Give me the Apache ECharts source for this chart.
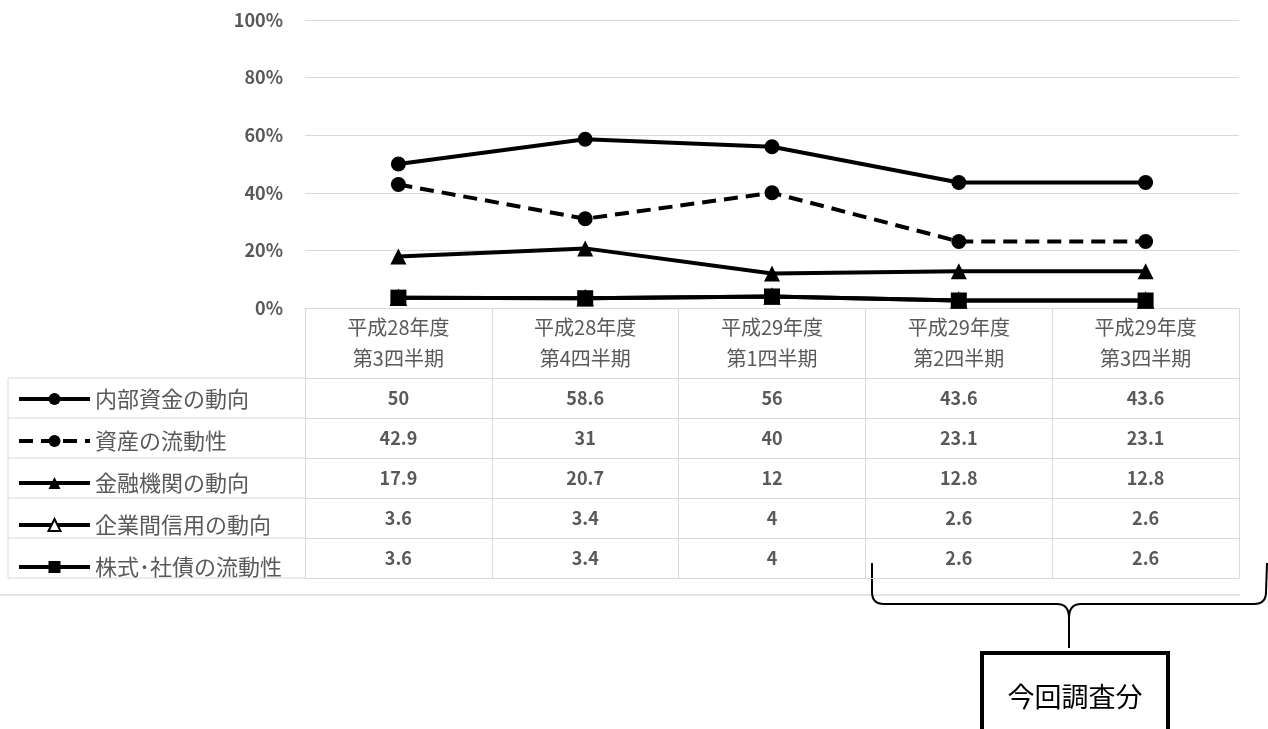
<!DOCTYPE html>
<html lang="ja">
<head>
<meta charset="utf-8">
<title>資金繰りの要因</title>
<script src="https://cdn.jsdelivr.net/npm/echarts@6/dist/echarts.min.js"></script>
<style>
  html, body { margin: 0; padding: 0; background: #ffffff; }
  #chart { width: 1268px; height: 729px; }
</style>
</head>
<body>
<div id="chart"></div>
<script>
// Survey periods (column headers of the data table)
const categories = [
  '平成28年度\n第3四半期',
  '平成28年度\n第4四半期',
  '平成29年度\n第1四半期',
  '平成29年度\n第2四半期',
  '平成29年度\n第3四半期'
];

// Share of responses (%) per factor
const seriesNames = ['内部資金の動向', '資産の流動性', '金融機関の動向', '企業間信用の動向', '株式･社債の流動性'];
const internalFunds = [50, 58.6, 56, 43.6, 43.6];
const assetLiquidity = [42.9, 31, 40, 23.1, 23.1];
const financialInstitutions = [17.9, 20.7, 12, 12.8, 12.8];
const tradeCredit = [3.6, 3.4, 4, 2.6, 2.6];
const securitiesLiquidity = [3.6, 3.4, 4, 2.6, 2.6];

const yTicks = [0, 20, 40, 60, 80, 100];

const rows = [internalFunds, assetLiquidity, financialInstitutions, tradeCredit, securitiesLiquidity];

// Layout of the chart and the data table beneath it
const GRID = { left: 305, right: 29, top: 20, bottom: 421 };
const HEADER_H = 70;
const ROW_H = 40;
const TABLE_LEFT = 8;
const GRID_LINE = '#d9d9d9';
const TEXT_GREY = '#595959';
const FONT = '"Noto Sans CJK JP", "Noto Sans", sans-serif';

const chart = echarts.init(document.getElementById('chart'), null, { renderer: 'canvas' });

// Header axis: period names, with long ticks forming the table's column rules
const xAxes = [{
  type: 'category',
  data: categories,
  position: 'bottom',
  boundaryGap: true,
  axisLine: { show: true, lineStyle: { color: GRID_LINE, width: 1 } },
  axisTick: { show: true, length: HEADER_H + ROW_H * rows.length, lineStyle: { color: GRID_LINE, width: 1 } },
  axisLabel: {
    interval: 0, margin: 4, fontSize: 20, lineHeight: 31,
    color: TEXT_GREY, fontFamily: FONT
  },
  splitLine: { show: false }
}];

// One extra axis per table row, its line being the row's top rule
rows.forEach((row, r) => {
  xAxes.push({
    type: 'category',
    data: categories,
    position: 'bottom',
    offset: HEADER_H + ROW_H * r,
    boundaryGap: true,
    axisLine: { show: true, lineStyle: { color: GRID_LINE, width: 1 } },
    axisTick: { show: false },
    axisLabel: {
      interval: 0, margin: 10, fontSize: 18, lineHeight: 20, fontWeight: 'bold',
      color: TEXT_GREY, fontFamily: FONT,
      formatter: (value, index) => String(row[index])
    },
    splitLine: { show: false }
  });
});
// Closing rule under the last row
xAxes.push({
  type: 'category',
  data: categories,
  position: 'bottom',
  offset: HEADER_H + ROW_H * rows.length,
  boundaryGap: true,
  axisLine: { show: true, lineStyle: { color: GRID_LINE, width: 1 } },
  axisTick: { show: false },
  axisLabel: { show: false },
  splitLine: { show: false }
});

const lineBase = { width: 4, color: '#000000' };
const series = [
  {
    name: seriesNames[0], type: 'line', data: internalFunds,
    symbol: 'circle', symbolSize: 15,
    lineStyle: Object.assign({}, lineBase),
    itemStyle: { color: '#000000' }
  },
  {
    name: seriesNames[1], type: 'line', data: assetLiquidity,
    symbol: 'circle', symbolSize: 15,
    lineStyle: Object.assign({}, lineBase, { type: [14, 8] }),
    itemStyle: { color: '#000000' }
  },
  {
    name: seriesNames[2], type: 'line', data: financialInstitutions,
    symbol: 'triangle', symbolSize: 16,
    lineStyle: Object.assign({}, lineBase),
    itemStyle: { color: '#000000' }
  },
  {
    name: seriesNames[3], type: 'line', data: tradeCredit,
    symbol: 'triangle', symbolSize: 15,
    lineStyle: Object.assign({}, lineBase),
    itemStyle: { color: '#ffffff', borderColor: '#000000', borderWidth: 1.5 }
  },
  {
    name: seriesNames[4], type: 'line', data: securitiesLiquidity,
    symbol: 'rect', symbolSize: 16,
    lineStyle: Object.assign({}, lineBase),
    itemStyle: { color: '#000000' }
  }
];

// Legend-column rules of the table (left of the plot area)
const tableTop = 729 - GRID.bottom + HEADER_H;
const plotLeft = GRID.left;
const graphics = [];
const rule = (x1, y1, x2, y2, stroke, lineWidth) => ({
  type: 'line', silent: true,
  shape: { x1, y1, x2, y2 },
  style: { stroke, lineWidth }
});
const curve = (x1, y1, cpx1, cpy1, x2, y2) => ({
  type: 'bezierCurve', silent: true,
  shape: { x1, y1, cpx1, cpy1, x2, y2 },
  style: { stroke: '#000000', lineWidth: 2, fill: 'none' }
});
for (let i = 0; i <= rows.length; i++) {
  const y = tableTop + ROW_H * i;
  graphics.push(rule(TABLE_LEFT, y, plotLeft, y, GRID_LINE, 1));
}
graphics.push(rule(TABLE_LEFT, tableTop, TABLE_LEFT, tableTop + ROW_H * rows.length, GRID_LINE, 1));
// Bottom edge of the chart frame
graphics.push(rule(0, 595, 1240, 595, '#c8c8c8', 1));
// Brace spanning the two latest periods
graphics.push(rule(872, 563, 872, 592, '#000000', 2));
graphics.push(curve(872, 592, 872, 604, 884, 604));
graphics.push(rule(884, 604, 1057, 604, '#000000', 2));
graphics.push(curve(1057, 604, 1069, 604, 1069, 618));
graphics.push(rule(1069, 618, 1069, 648, '#000000', 2));
graphics.push(curve(1069, 618, 1069, 604, 1081, 604));
graphics.push(rule(1081, 604, 1254, 604, '#000000', 2));
graphics.push(curve(1254, 604, 1266, 604, 1266, 592));
graphics.push(rule(1266, 592, 1267, 563, '#000000', 2));
// Callout box
graphics.push({
  type: 'rect', silent: true,
  shape: { x: 982, y: 653, width: 186, height: 100 },
  style: { stroke: '#000000', lineWidth: 4, fill: '#ffffff' }
});
graphics.push({
  type: 'text', silent: true,
  x: 1075, y: 697,
  style: {
    text: '今回調査分', fill: '#000000', fontSize: 27, fontFamily: FONT,
    align: 'center', verticalAlign: 'middle'
  }
});

chart.setOption({
  animation: false,
  backgroundColor: '#ffffff',
  textStyle: { fontFamily: FONT },
  grid: Object.assign({ containLabel: false }, GRID),
  legend: {
    data: seriesNames,
    orient: 'vertical',
    left: 17,
    top: tableTop + 10,
    padding: 0,
    itemWidth: 71,
    itemHeight: 15,
    itemGap: 20,
    selectedMode: false,
    lineStyle: { width: 4 },
    textStyle: { fontSize: 22, lineHeight: 20, color: TEXT_GREY, fontFamily: FONT }
  },
  xAxis: xAxes,
  yAxis: {
    type: 'value',
    min: yTicks[0],
    max: yTicks[yTicks.length - 1],
    interval: yTicks[1] - yTicks[0],
    axisLine: { show: false },
    axisTick: { show: false },
    axisLabel: {
      formatter: '{value}%', margin: 22, fontSize: 18, fontWeight: 'bold',
      color: TEXT_GREY, fontFamily: FONT
    },
    splitLine: { lineStyle: { color: GRID_LINE, width: 1 } }
  },
  series: series,
  graphic: graphics
});
</script>
</body>
</html>
